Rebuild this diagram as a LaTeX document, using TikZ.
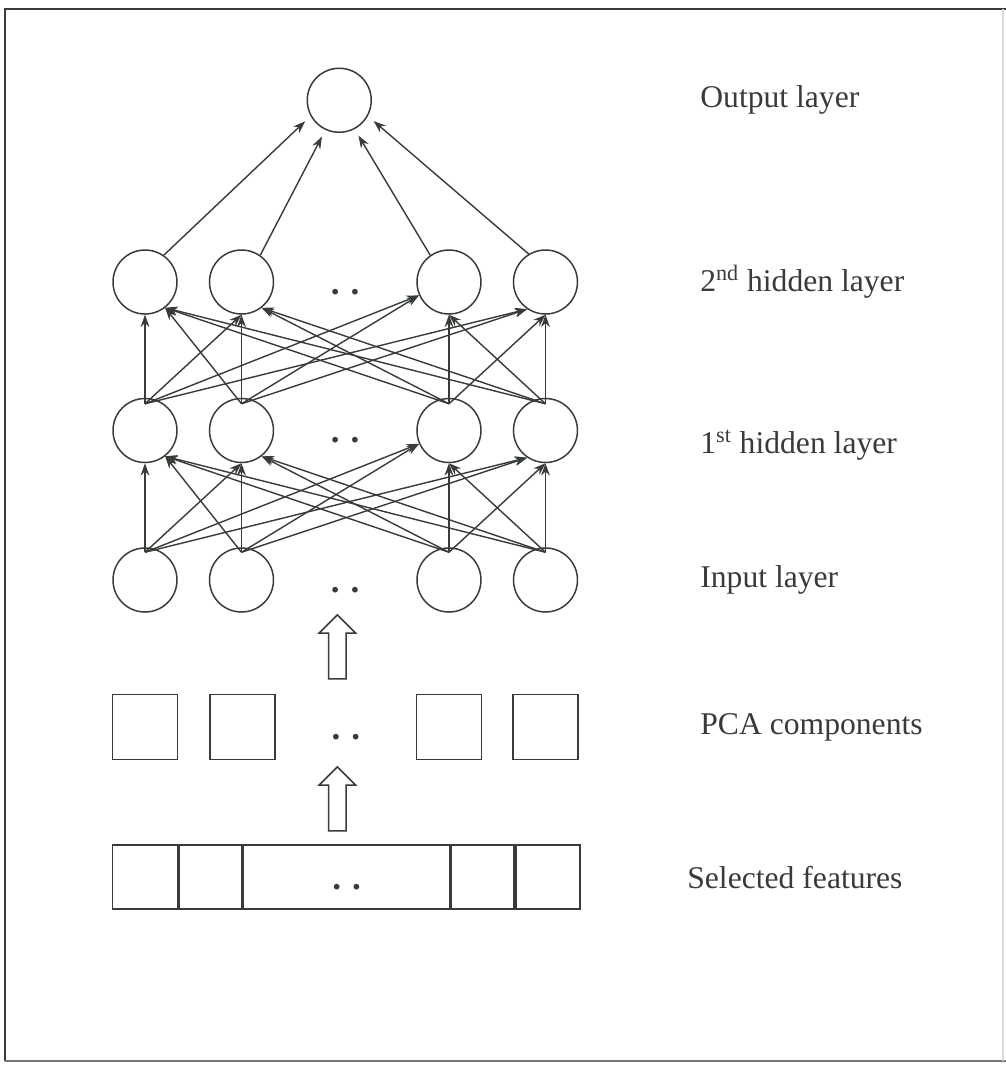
\documentclass[tikz,border=0pt]{standalone}
\usepackage{fontspec}
\setmainfont{Liberation Serif}
\usepackage{xcolor}
\usepackage{tikz}
\usetikzlibrary{shapes.arrows, arrows.meta, positioning, calc}
\definecolor{ink}{RGB}{55,60,55}

\begin{document}
\begin{tikzpicture}[
    node distance=1.67cm and 0.62cm,
    neuron/.style={circle, draw=ink, line width=0.85pt, minimum size=1.28cm, inner sep=0pt},
    comp/.style={rectangle, draw=ink, line width=0.9pt, minimum size=1.3cm, inner sep=0pt},
    cell/.style={rectangle, draw=ink, line width=0.9pt, minimum height=1.28cm, inner sep=0pt},
    dotsnode/.style={font=\fontsize{20}{24}\selectfont\bfseries, text=ink, inner sep=0pt, yshift=-0.2cm},
    lbl/.style={anchor=west, inner sep=0pt, text=ink, font=\fontsize{18}{22}\selectfont},
    arrow/.style={ink, line width=0.8pt, -{Stealth[length=7pt,width=5pt]}},
    bigarrow/.style={single arrow, draw=ink, line width=0.85pt, shape border rotate=90, minimum height=1.28cm, single arrow head extend=0.19cm, inner sep=0.16cm}
]
\useasboundingbox (0,0) rectangle (20.12,-21.3);
% Frame
\draw [ink, line width=1.3pt] (0.1,-21.22) -- (0.1,-0.18) -- (20.12,-0.18);
\draw [ink!70, line width=1pt] (0.1,-21.22) -- (20.12,-21.22);
\draw [ink!20, line width=0.6pt] (20.06,-0.18) -- (20.06,-21.22);

% Input layer
\node [neuron] (in1) at (2.9,-11.6) {};
\node [neuron, right=of in1] (in2) {};
\node [neuron, right=2.84cm of in2] (in3) {};
\node [neuron, right=of in3] (in4) {};

% 1st hidden layer
\node [neuron, above=1.68cm of in1] (hida1) {};
\node [neuron, above=1.68cm of in2] (hida2) {};
\node [neuron, above=1.68cm of in3] (hida3) {};
\node [neuron, above=1.68cm of in4] (hida4) {};

% 2nd hidden layer
\node [neuron, above=1.66cm of hida1] (hidb1) {};
\node [neuron, above=1.66cm of hida2] (hidb2) {};
\node [neuron, above=1.66cm of hida3] (hidb3) {};
\node [neuron, above=1.66cm of hida4] (hidb4) {};

% Output layer
\coordinate (midb) at ($(hidb2)!0.5!(hidb3)$);
\node [neuron, above=2.98cm of midb, xshift=-0.12cm] (out) {};

% PCA components
\node [comp, below=1.62cm of in1] (pca1) {};
\node [comp, right=of pca1] (pca2) {};
\node [comp, right=2.8cm of pca2] (pca3) {};
\node [comp, right=0.6cm of pca3] (pca4) {};

% Selected features
\node [cell, minimum width=1.3cm, below=1.68cm of pca1] (sel1) {};
\node [cell, minimum width=1.26cm, right=0cm of sel1] (sel2) {};
\node [cell, minimum width=4.12cm, right=0cm of sel2] (sel3) {};
\node [cell, minimum width=1.26cm, right=0cm of sel3] (sel4) {};
\node [cell, minimum width=1.28cm, right=0cm of sel4] (sel5) {};

% Dots
\node [dotsnode] (dhidb) at (midb) {.\hspace{0.22cm}.};
\node [dotsnode] (dhida) at ($(hida2)!0.5!(hida3)$) {.\hspace{0.22cm}.};
\node [dotsnode] (din) at ($(in2)!0.5!(in3)$) {.\hspace{0.22cm}.};
\node [dotsnode] (dpca) at ($(pca2)!0.5!(pca3)$) {.\hspace{0.22cm}.};
\node [dotsnode] (dsel) at (sel3) {.\hspace{0.22cm}.};

% Block arrows
\node [bigarrow] (up1) at ($(in2.south)!0.5!(pca3.north)+(-0.16,0.04)$) {};
\node [bigarrow] (up2) at ($(up1)+(0,-3.04)$) {};

% Connections
\foreach \i/\j/\a in {1/1/270, 1/2/270, 1/3/204, 1/4/236, 2/1/308, 2/2/270, 2/3/204, 2/4/236,
                      3/1/308, 3/2/308, 3/3/270, 3/4/270, 4/1/308, 4/2/308, 4/3/270, 4/4/270}
{
  \draw [arrow] ([yshift=-1mm]in\i.north) -- (hida\j.\a);
  \draw [arrow] ([yshift=-1.2mm]hida\i.north) -- (hidb\j.\a);
}
\draw [arrow, shorten >=1.5mm] (hidb1.55) -- (out.209);
\draw [arrow, shorten >=1.5mm] (hidb2.55) -- (out.245);
\draw [arrow, shorten >=1.5mm] (hidb3.125) -- (out.298);
\draw [arrow, shorten >=1.5mm] (hidb4.121) -- (out.331);

% Labels
\coordinate (lab) at (14.0,0);
\node [lbl] (tout) at (out -| lab) {Output layer};
\node [lbl] (thidb) at (hidb4 -| lab) {2\textsuperscript{nd} hidden layer};
\node [lbl, yshift=-0.3cm] (thida) at (hida4 -| lab) {1\textsuperscript{st} hidden layer};
\node [lbl] (tin) at (in4 -| lab) {Input layer};
\node [lbl] (tpca) at (pca4 -| lab) {PCA components};
\node [lbl, xshift=-0.26cm] (tsel) at (sel5 -| lab) {Selected features};
\end{tikzpicture}
\end{document}
